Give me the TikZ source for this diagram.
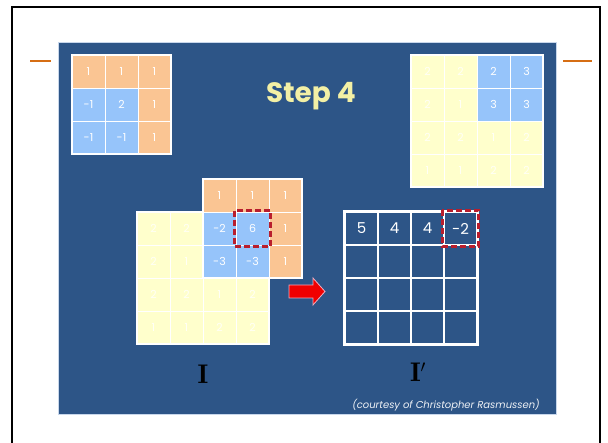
\documentclass[tikz,border=0pt]{standalone}
\usepackage{fontspec}
\newfontfamily\pop{Poppins}
\definecolor{bluebg}{RGB}{45,85,135}
\definecolor{panedge}{RGB}{200,215,235}
\definecolor{korange}{RGB}{250,197,147}
\definecolor{kblue}{RGB}{150,196,250}
\definecolor{iyellow}{RGB}{255,255,204}
\definecolor{titleyel}{RGB}{243,240,165}
\definecolor{redbox}{RGB}{185,30,45}
\definecolor{lineor}{RGB}{214,110,20}
\definecolor{arrred}{RGB}{240,0,0}
\definecolor{arredge}{RGB}{235,170,190}
\tikzset{
  cell/.style={draw=white, line width=0.9pt, minimum size=33pt, inner sep=0pt,
    text=white, font=\pop\fontsize{11}{12}\selectfont},
  outcell/.style={draw=white, line width=1.3pt, minimum size=33pt, inner sep=0pt,
    text=white, font=\pop\fontsize{15}{17}\selectfont},
  border/.style={draw=white, line width=2pt},
  redbx/.style={draw=redbox, line width=2.4pt, dash pattern=on 6pt off 3pt},
  faint/.style={text=white!85!iyellow},
}
\begin{document}
\begin{tikzpicture}[x=1pt,y=-1pt]
\useasboundingbox (0,0) rectangle (608,443);
\fill[white] (0,0) rectangle (608,443);
% frame
\draw[black, line width=2pt] (12,443) -- (12,7) -- (600,7) -- (600,443);
% orange rules
\draw[lineor, line width=2.5pt] (30,61) -- (51,61);
\draw[lineor, line width=2.5pt] (563,61) -- (592,61);
% panel
\fill[bluebg] (58,42) rectangle (556,414);
\draw[panedge, line width=0.6pt] (58,42) rectangle (556,414);
% title
\node[anchor=base, text=titleyel, font=\pop\bfseries\fontsize{28}{32}\selectfont, inner sep=0pt] (title) at (311,103) {Step 4};

% ---------- top-left kernel ----------
\foreach \r/\c/\f/\t in {0/0/korange/1,0/1/korange/1,0/2/korange/1,
                         1/0/kblue/-1,1/1/kblue/2,1/2/korange/1,
                         2/0/kblue/-1,2/1/kblue/-1,2/2/korange/1}
  \node[cell, fill=\f] (ka\r\c) at ({72+16.5+33*\c},{55+16.5+33*\r}) {\t};
\draw[border] (ka00.north west) rectangle (ka22.south east);

% ---------- top-right image ----------
\foreach \r/\c/\f/\s/\t in {0/0/iyellow/faint/2,0/1/iyellow/faint/2,0/2/kblue/cell/2,0/3/kblue/cell/3,
                            1/0/iyellow/faint/2,1/1/iyellow/faint/1,1/2/kblue/cell/3,1/3/kblue/cell/3,
                            2/0/iyellow/faint/2,2/1/iyellow/faint/2,2/2/iyellow/faint/1,2/3/iyellow/faint/2,
                            3/0/iyellow/faint/1,3/1/iyellow/faint/1,3/2/iyellow/faint/2,3/3/iyellow/faint/2}
  \node[cell, fill=\f, \s] (ib\r\c) at ({411+16.5+33*\c},{55+16.5+33*\r}) {\t};
\draw[border] (ib00.north west) rectangle (ib33.south east);

% ---------- bottom-left image (cells under the kernel left empty) ----------
\foreach \r/\c/\t in {0/0/2,0/1/2,0/2/{},0/3/{},
                      1/0/2,1/1/1,1/2/{},1/3/{},
                      2/0/2,2/1/2,2/2/1,2/3/2,
                      3/0/1,3/1/1,3/2/2,3/3/2}
  \node[cell, fill=iyellow, faint] (ic\r\c) at ({137+16.5+33*\c},{212+16.5+33*\r}) {\t};
\draw[border] (ic00.north west) rectangle (ic33.south east);

% ---------- kernel overlay ----------
\foreach \r/\c/\f/\t in {0/0/korange/1,0/1/korange/1,0/2/korange/1,
                         1/0/kblue/-2,1/1/kblue/6,1/2/korange/1,
                         2/0/kblue/-3,2/1/kblue/-3,2/2/korange/1}
  \node[cell, fill=\f] (kb\r\c) at ({203+16.5+33*\c},{179+16.5+33*\r}) {\t};
\draw[border] (kb00.north west) rectangle (kb22.south east);
\draw[redbx] ([shift={(-1pt,1pt)}]kb11.north west) rectangle ([shift={(1pt,-1pt)}]kb11.south east);

% ---------- arrow ----------
\fill[arrred, draw=arredge, line width=0.8pt]
  (289,285) -- (313,285) -- (313,278) -- (325,291.5) -- (313,305) -- (313,298) -- (289,298) -- cycle;

% ---------- output image ----------
\foreach \r/\c/\t in {0/0/5,0/1/4,0/2/4,0/3/-2,
                      1/0/{},1/1/{},1/2/{},1/3/{},
                      2/0/{},2/1/{},2/2/{},2/3/{},
                      3/0/{},3/1/{},3/2/{},3/3/{}}
  \node[outcell] (io\r\c) at ({345+16.5+33*\c},{212+16.5+33*\r}) {\t};
\draw[white, line width=2pt] (io00.north west) rectangle (io33.south east);
\draw[redbx] ([shift={(-1pt,1pt)}]io03.north west) rectangle ([shift={(1pt,-1pt)}]io03.south east);

% ---------- labels ----------
\node[font=\fontsize{27}{30}\selectfont, text=black] (labI) at (203,374) {$\mathbf{I}$};
\node[font=\fontsize{27}{30}\selectfont, text=black] (labIp) at (418,372) {$\mathbf{I}'$};
\node[font=\pop\itshape\fontsize{10}{12}\selectfont, text=white!92!bluebg] (credit) at (446,405) {(courtesy of Christopher Rasmussen)};
\end{tikzpicture}
\end{document}
